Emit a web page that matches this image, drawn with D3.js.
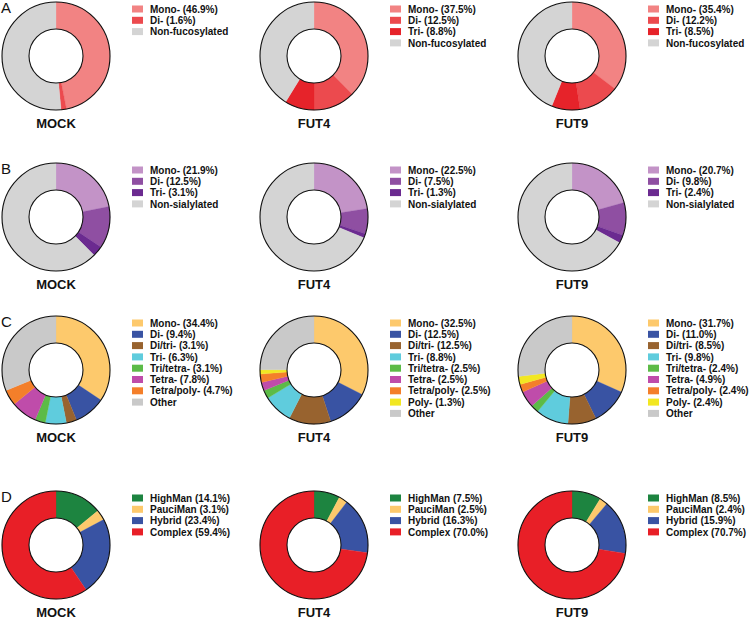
<!DOCTYPE html>
<html><head><meta charset="utf-8">
<script src="https://cdn.jsdelivr.net/npm/d3@7"></script>
<style>body{margin:0;background:#fff}svg{display:block}</style>
</head><body>
<script>
// ---- data ----
const conditions = ["MOCK", "FUT4", "FUT9"];
const panelLetters = ["A", "B", "C", "D"];

const fucCategories = ["Mono-", "Di-", "Tri-", "Non-fucosylated"];
const fucColors = ["#F28383", "#EC4A4E", "#E6232A", "#D4D4D4"];
const fucMock = [46.9, 1.6, null, 51.5];
const fucFut4 = [37.5, 12.5, 8.8, 41.2];
const fucFut9 = [35.4, 12.2, 8.5, 43.9];

const siaCategories = ["Mono-", "Di-", "Tri-", "Non-sialylated"];
const siaColors = ["#C393C7", "#8F4FA2", "#6B2A90", "#D4D4D4"];
const siaMock = [21.9, 12.5, 3.1, 62.5];
const siaFut4 = [22.5, 7.5, 1.3, 68.7];
const siaFut9 = [20.7, 9.8, 2.4, 67.1];

const antCategories = ["Mono-", "Di-", "Di/tri-", "Tri-", "Tri/tetra-", "Tetra-", "Tetra/poly-", "Poly-", "Other"];
const antColors = ["#FDC96C", "#3953A3", "#98632F", "#5FCCDD", "#5CBB47", "#BF4CAA", "#F47F2A", "#F2E722", "#C9C9C9"];
const antMock = [34.4, 9.4, 3.1, 6.3, 3.1, 7.8, 4.7, null, 31.2];
const antFut4 = [32.5, 12.5, 12.5, 8.8, 2.5, 2.5, 2.5, 1.3, 24.9];
const antFut9 = [31.7, 11.0, 8.5, 9.8, 2.4, 4.9, 2.4, 2.4, 26.9];

const typeCategories = ["HighMan", "PauciMan", "Hybrid", "Complex"];
const typeColors = ["#1D8440", "#FDC96C", "#3953A3", "#E81F27"];
const typeMock = [14.1, 3.1, 23.4, 59.4];
const typeFut4 = [7.5, 2.5, 16.3, 70.0];
const typeFut9 = [8.5, 2.4, 15.9, 70.7];

const rows = [
  {cats: fucCategories, colors: fucColors, values: [fucMock, fucFut4, fucFut9], restLabel: true},
  {cats: siaCategories, colors: siaColors, values: [siaMock, siaFut4, siaFut9], restLabel: true},
  {cats: antCategories, colors: antColors, values: [antMock, antFut4, antFut9], restLabel: true},
  {cats: typeCategories, colors: typeColors, values: [typeMock, typeFut4, typeFut9], restLabel: false}
];

// ---- layout ----
const W = 750, H = 619;
const colX = d3.scalePoint().domain(conditions).range([56, 572]);
const rowY = [56, 217, 370, 545];
const rOuter = 54, rInner = 27;
const FONT = "'Liberation Sans', Arial, Helvetica, sans-serif";

const svg = d3.select("body").append("svg").attr("width", W).attr("height", H);

const pie = d3.pie().sort(null).value(d => d.v);
const arc = d3.arc().innerRadius(rInner).outerRadius(rOuter);

rows.forEach((row, ri) => {
  const cy = rowY[ri];
  svg.append("text").attr("x", 1).attr("y", cy - 43)
    .attr("font-family", FONT).attr("font-size", 15).attr("fill", "#111")
    .text(panelLetters[ri]);

  conditions.forEach((cond, ci) => {
    const cx = colX(cond);
    const vals = row.values[ci];
    const items = row.cats.map((c, k) => ({c, v: vals[k], color: row.colors[k], k}))
      .filter(d => d.v !== null);
    const g = svg.append("g").attr("transform", `translate(${cx},${cy})`);
    g.selectAll("path").data(pie(items)).join("path")
      .attr("d", arc).attr("fill", d => d.data.color)
      .attr("stroke", d => d.data.color).attr("stroke-width", 0.3);
    g.append("circle").attr("r", rOuter).attr("fill", "none").attr("stroke", "#111").attr("stroke-width", 1.1);
    g.append("circle").attr("r", rInner).attr("fill", "#fff").attr("stroke", "#111").attr("stroke-width", 1.1);

    svg.append("text").attr("x", cx).attr("y", cy + 72)
      .attr("text-anchor", "middle").attr("font-family", FONT)
      .attr("font-weight", "bold").attr("font-size", 13).attr("fill", "#111")
      .text(cond);

    // legend
    const lx = cx + 76, ly0 = cy - 47, step = 11.3;
    const lg = svg.append("g");
    items.forEach((d, i) => {
      const isRest = row.restLabel && d.k === row.cats.length - 1;
      lg.append("rect").attr("x", lx).attr("y", ly0 + i * step - 3.5)
        .attr("width", 11).attr("height", 7).attr("fill", d.color);
      lg.append("text").attr("x", lx + 18).attr("y", ly0 + i * step + 3.6)
        .attr("font-family", FONT).attr("font-weight", "bold").attr("font-size", 10)
        .attr("fill", "#111")
        .text(isRest ? d.c : `${d.c} (${d.v.toFixed(1)}%)`);
    });
  });
});
</script>
</body></html>
